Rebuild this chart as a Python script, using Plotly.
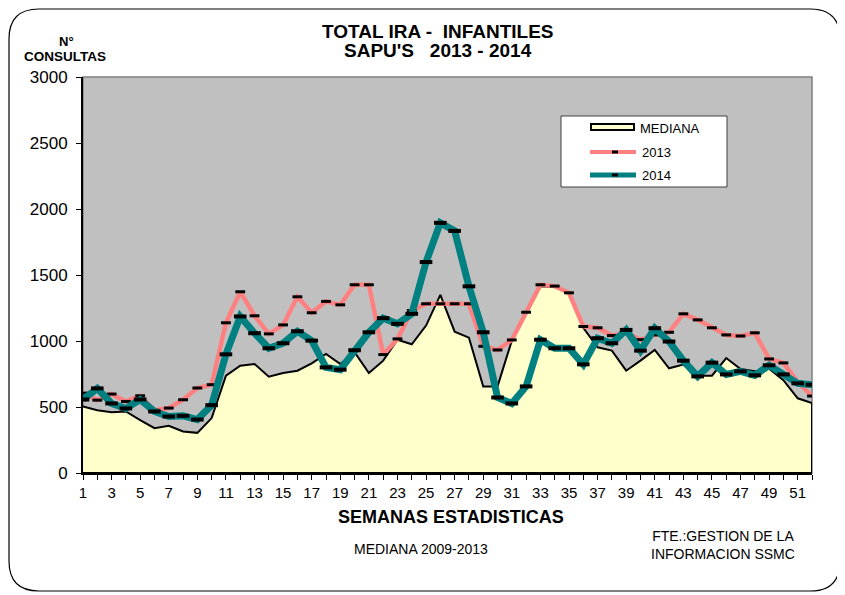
import plotly.graph_objects as go

weeks = list(range(1, 53))
x_tick_labels = ["1", "", "3", "", "5", "", "7", "", "9", "", "11", "", "13", "", "15", "", "17", "",
                 "19", "", "21", "", "23", "", "25", "", "27", "", "29", "", "31", "", "33", "", "35", "",
                 "37", "", "39", "", "41", "", "43", "", "45", "", "47", "", "49", "", "51", ""]
y_tick_values = [0, 500, 1000, 1500, 2000, 2500, 3000]
series_names = ["MEDIANA", "2013", "2014"]

mediana = [504, 476, 461, 466, 400, 340, 357, 314, 304, 416,
           737, 813, 826, 730, 757, 775, 831, 902, 826, 915,
           757, 851, 1010, 975, 1117, 1350, 1071, 1025, 656, 656,
           1003, 1215, 1415, 1410, 1365, 1100, 952, 927, 775, 851,
           932, 793, 821, 737, 737, 871, 788, 770, 790, 703,
           566, 530]
y2013 = [605, 552, 598, 542, 585, 476, 492, 555, 644, 669,
         1138, 1373, 1191, 1054, 1122, 1335, 1214, 1300, 1274, 1426,
         1426, 897, 1016, 1230, 1282, 1282, 1282, 1282, 960, 932,
         1008, 1218, 1426, 1416, 1365, 1110, 1100, 1041, 1060, 1010,
         1046, 1066, 1206, 1160, 1100, 1046, 1038, 1062, 864, 834,
         690, 583]
y2014 = [557, 641, 527, 489, 557, 466, 428, 433, 405, 514,
         899, 1186, 1059, 945, 983, 1074, 1003, 800, 783, 930,
         1066, 1173, 1130, 1206, 1598, 1895, 1834, 1414, 1066, 572,
         527, 656, 1010, 945, 945, 823, 1021, 983, 1084, 927,
         1097, 996, 851, 732, 836, 747, 770, 740, 816, 747,
         679, 669]

OFF = 8  # page body margin
W, H = 845 - OFF, 595 - OFF
ML, MT = 83 - OFF, 77 - OFF
PW, PH = 729, 396
MR, MB = W - ML - PW, H - MT - PH

def px(x):
    return (x - OFF - ML) / PW

def py(y):
    return (MT + PH - (y - OFF)) / PH

FONT = "Liberation Sans, Arial, sans-serif"
PINK, TEAL, CREAM = "#FF8080", "#008080", "#FFFFCC"

fig = go.Figure()

fig.add_trace(go.Scatter(
    x=weeks + [weeks[-1], weeks[0]],
    y=mediana + [0, 0],
    mode="lines", fill="toself", fillcolor=CREAM,
    line=dict(color="black", width=2),
    name=series_names[0], showlegend=False,
))
fig.add_trace(go.Scatter(
    x=weeks, y=y2013, mode="lines+markers", name=series_names[1],
    line=dict(color=PINK, width=4.5),
    marker=dict(symbol="line-ew", size=7, color="black",
                line=dict(color="black", width=3)),
    showlegend=False,
))
fig.add_trace(go.Scatter(
    x=weeks, y=y2014, mode="lines+markers", name=series_names[2],
    line=dict(color=TEAL, width=7),
    marker=dict(symbol="line-ew", size=9, color="black",
                line=dict(color="black", width=4)),
    showlegend=False,
))

# rounded outer frame
L, R, T, B, r = 9, 840, 9, 591, 30
path = (f"M {px(L+r)},{py(T)} L {px(R-r)},{py(T)} Q {px(R)},{py(T)} {px(R)},{py(T+r)} "
        f"L {px(R)},{py(B-r)} Q {px(R)},{py(B)} {px(R-r)},{py(B)} "
        f"L {px(L+r)},{py(B)} Q {px(L)},{py(B)} {px(L)},{py(B-r)} "
        f"L {px(L)},{py(T+r)} Q {px(L)},{py(T)} {px(L+r)},{py(T)} Z")

def paper_shape(**kw):
    d = dict(xref="paper", yref="paper")
    d.update(kw)
    return d

shapes = [
    paper_shape(type="path", path=path, line=dict(color="black", width=1.2), layer="below"),
    paper_shape(type="rect", x0=0, x1=1, y0=0, y1=1,
                line=dict(color="#808080", width=1.5), layer="below"),
    # legend box
    paper_shape(type="rect", x0=px(561), x1=px(727), y0=py(116), y1=py(187),
                line=dict(color="#404040", width=1), fillcolor="white", layer="above"),
    # legend samples
    paper_shape(type="rect", x0=px(591), x1=px(634), y0=py(124), y1=py(130),
                line=dict(color="black", width=2), fillcolor=CREAM, layer="above"),
    paper_shape(type="line", x0=px(590), x1=px(636), y0=py(152), y1=py(152),
                line=dict(color=PINK, width=4), layer="above"),
    paper_shape(type="line", x0=px(612), x1=px(618), y0=py(152), y1=py(152),
                line=dict(color="black", width=3), layer="above"),
    paper_shape(type="line", x0=px(590), x1=px(636), y0=py(175), y1=py(175),
                line=dict(color=TEAL, width=5), layer="above"),
    paper_shape(type="line", x0=px(612), x1=px(618), y0=py(175), y1=py(175),
                line=dict(color="black", width=3), layer="above"),
]

def note(text, x, y, size, xanchor="center", **kw):
    d = dict(text=text, x=px(x), y=py(y), xref="paper", yref="paper", showarrow=False,
             xanchor=xanchor, yanchor="middle",
             font=dict(size=size, color="black", family=FONT))
    d.update(kw)
    return d

annotations = [
    note("<b>TOTAL IRA -  INFANTILES</b>", 438, 31, 19),
    note("<b>SAPU'S   2013 - 2014</b>", 438, 50, 19),
    note("<b>N°</b>", 66, 41, 13),
    note("<b>CONSULTAS</b>", 65, 56, 13.5),
    note("<b>SEMANAS ESTADISTICAS</b>", 451, 517, 18),
    note("MEDIANA 2009-2013", 421, 549, 14),
    note("FTE.:GESTION DE LA<br>INFORMACION SSMC", 723, 545, 14, align="center"),
    note(series_names[0], 638, 128, 13, xanchor="left"),
    note(series_names[1], 640, 152, 13, xanchor="left"),
    note(series_names[2], 640, 175, 13, xanchor="left"),
]

fig.update_layout(
    width=W, height=H, autosize=False,
    margin=dict(l=ML, r=MR, t=MT, b=MB, pad=0),
    paper_bgcolor="white",
    plot_bgcolor="#C0C0C0",
    font=dict(family=FONT, color="black"),
    shapes=shapes,
    annotations=annotations,
    showlegend=False,
    xaxis=dict(
        range=[1, 52], tickmode="array", tickvals=weeks, ticktext=x_tick_labels,
        ticks="outside", ticklen=5, tickcolor="black", tickwidth=1,
        showline=True, linecolor="black", linewidth=2,
        showgrid=False, zeroline=False,
        tickfont=dict(size=15, family=FONT, color="black"),
    ),
    yaxis=dict(
        range=[0, 3000], tickmode="array", tickvals=y_tick_values,
        ticks="outside", ticklen=5, tickcolor="black", tickwidth=1,
        showline=True, linecolor="black", linewidth=2,
        showgrid=False, zeroline=False, ticklabelstandoff=5,
        tickfont=dict(size=17, family=FONT, color="black"),
    ),
)

fig.write_html("out.html")
